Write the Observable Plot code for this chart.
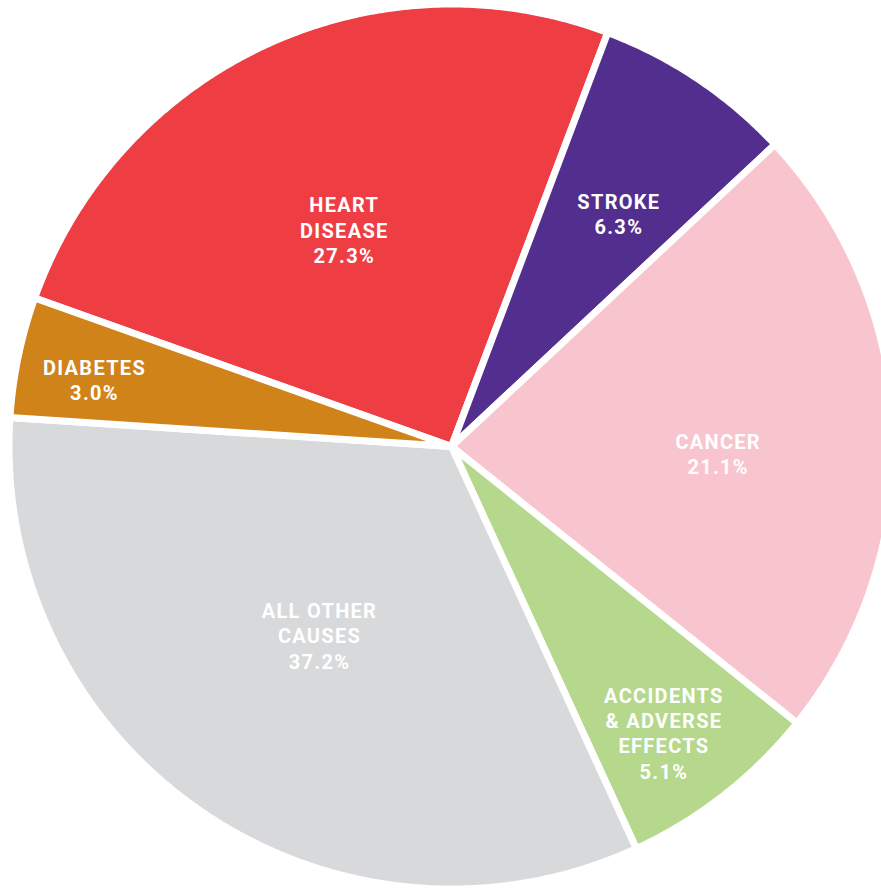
<!DOCTYPE html>
<html>
<head>
<meta charset="utf-8">
<script src="https://cdn.jsdelivr.net/npm/d3@7"></script>
<script src="https://cdn.jsdelivr.net/npm/@observablehq/plot@0.6"></script>
<style>
  html, body { margin: 0; padding: 0; background: #ffffff; }
  #chart svg text { letter-spacing: 1.3px; }
</style>
</head>
<body>
<div id="chart"></div>
<script>
// ---- data ----
const categories = ["Heart disease", "Stroke", "Cancer", "Accidents & adverse effects", "All other causes", "Diabetes"];
// slice sizes as drawn in the picture (share of the full circle, %)
const sliceShare = [25.3, 7.3, 22.7, 7.4, 32.9, 4.4];
// printed labels
const labelNames = ["HEART\nDISEASE", "STROKE", "CANCER", "ACCIDENTS\n& ADVERSE\nEFFECTS", "ALL OTHER\nCAUSES", "DIABETES"];
const percentLabels = ["27.3%", "6.3%", "21.1%", "5.1%", "37.2%", "3.0%"];
const sliceColors = ["#ee3e44", "#522e8e", "#f8c5cf", "#b5d88c", "#d8d9db", "#d08318"];

// ---- layout ----
const W = 881, H = 888;
const CX = 451, CY = 446, R = 442.5;      // pixel centre and radius
const START_DEG = -70.4;                  // where the first slice begins (clockwise from 12 o'clock)
const labelPolar = [[333.5, 0.543], [35.9, 0.645], [91.9, 0.603], [143.6, 0.809], [214.7, 0.524], [280.3, 0.820]];

const rad = d => d * Math.PI / 180;
const pie = d3.pie().sort(null).value(d => d.share)
  .startAngle(rad(START_DEG)).endAngle(rad(START_DEG) + 2 * Math.PI);
const slices = pie(categories.map((c, i) => ({cat: c, share: sliceShare[i]})));

// polygon outline of each slice, in unit-circle coordinates
const outline = [];
for (const s of slices) {
  outline.push({cat: s.data.cat, x: 0, y: 0});
  const n = Math.max(2, Math.ceil((s.endAngle - s.startAngle) / rad(0.5)));
  for (let k = 0; k <= n; k++) {
    const a = s.startAngle + (s.endAngle - s.startAngle) * k / n;
    outline.push({cat: s.data.cat, x: Math.sin(a), y: -Math.cos(a)});
  }
}

const labels = categories.map((c, i) => {
  const a = rad(labelPolar[i][0]), r = labelPolar[i][1];
  return {cat: c, x: r * Math.sin(a), y: -r * Math.cos(a), text: labelNames[i] + "\n" + percentLabels[i]};
});

const chart = Plot.plot({
  width: W,
  height: H,
  margin: 0,
  style: {background: "#ffffff"},
  x: {domain: [-CX / R, (W - CX) / R], range: [0, W], axis: null},
  y: {domain: [-CY / R, (H - CY) / R], range: [0, H], axis: null},
  color: {domain: categories, range: sliceColors},
  marks: [
    Plot.line(outline, {
      x: "x", y: "y", z: "cat", fill: "cat",
      stroke: "#ffffff", strokeWidth: 7, strokeLinejoin: "miter",
      curve: "linear-closed"
    }),
    Plot.text(labels, {
      x: "x", y: "y", text: "text", dy: -2,
      fill: "#ffffff", fontSize: 20, fontWeight: "bold",
      fontFamily: "Roboto, 'Open Sans', sans-serif",
      lineHeight: 1.27
    })
  ]
});
document.getElementById("chart").appendChild(chart);
</script>
</body>
</html>
